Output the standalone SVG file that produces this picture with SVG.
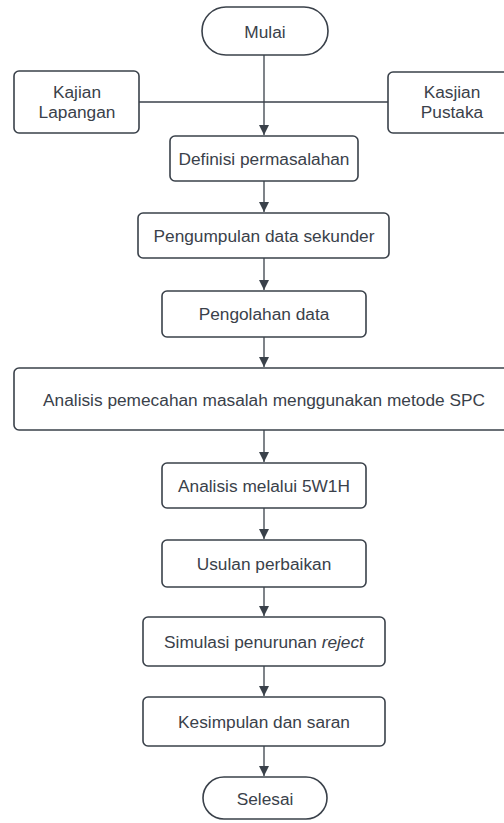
<svg xmlns="http://www.w3.org/2000/svg" width="504" height="823" viewBox="0 0 504 823">
<style>
.box{fill:#ffffff;stroke:#3a414a;stroke-width:1.6}
.t{font-family:"Liberation Sans",Arial,sans-serif;font-size:17.3px;fill:#3a414a;text-anchor:middle}
.c{fill:none;stroke:#3a414a;stroke-width:1.3}
</style>
<defs>
<marker id="arr" markerWidth="10" markerHeight="12" refX="10" refY="5" orient="auto" markerUnits="userSpaceOnUse" viewBox="0 0 10 10">
<path d="M0,0 L10,5 L0,10 Z" fill="#3a414a"/>
</marker>
</defs>
<rect width="504" height="823" fill="#ffffff"/>
<g id="connectors">
<line class="c" x1="264" y1="55" x2="264" y2="135" marker-end="url(#arr)"/>
<line class="c" x1="139" y1="102" x2="388" y2="102"/>
<line class="c" x1="264" y1="181" x2="264" y2="212" marker-end="url(#arr)"/>
<line class="c" x1="264" y1="258" x2="264" y2="290" marker-end="url(#arr)"/>
<line class="c" x1="264" y1="337" x2="264" y2="367" marker-end="url(#arr)"/>
<line class="c" x1="264" y1="430" x2="264" y2="462" marker-end="url(#arr)"/>
<line class="c" x1="264" y1="508" x2="264" y2="539" marker-end="url(#arr)"/>
<line class="c" x1="264" y1="587" x2="264" y2="616" marker-end="url(#arr)"/>
<line class="c" x1="264" y1="666" x2="264" y2="696" marker-end="url(#arr)"/>
<line class="c" x1="264" y1="746" x2="264" y2="776" marker-end="url(#arr)"/>
</g>
<g id="mulai">
<rect class="box" x="202" y="7" width="126" height="48" rx="24"/>
<text class="t" x="265" y="37.5">Mulai</text>
</g>
<g id="kajian">
<rect class="box" x="14" y="71" width="125" height="62" rx="5"/>
<text class="t" x="77" y="97.5">Kajian</text>
<text class="t" x="77" y="117.5">Lapangan</text>
</g>
<g id="kasjian">
<rect class="box" x="388" y="72" width="128" height="61" rx="5"/>
<text class="t" x="452" y="97.5">Kasjian</text>
<text class="t" x="452" y="117.5">Pustaka</text>
</g>
<g id="definisi">
<rect class="box" x="170" y="136" width="188" height="45" rx="5"/>
<text class="t" x="264" y="164.5">Definisi permasalahan</text>
</g>
<g id="pengumpulan">
<rect class="box" x="138" y="213" width="251" height="45" rx="5"/>
<text class="t" x="264" y="241.5">Pengumpulan data sekunder</text>
</g>
<g id="pengolahan">
<rect class="box" x="162" y="291" width="204" height="46" rx="5"/>
<text class="t" x="264" y="319.5">Pengolahan data</text>
</g>
<g id="spc">
<rect class="box" x="14" y="368" width="500" height="62" rx="5"/>
<text class="t" x="264" y="405.5">Analisis pemecahan masalah menggunakan metode SPC</text>
</g>
<g id="w1h">
<rect class="box" x="162" y="463" width="204" height="45" rx="5"/>
<text class="t" x="264" y="491.5">Analisis melalui 5W1H</text>
</g>
<g id="usulan">
<rect class="box" x="162" y="540" width="204" height="47" rx="5"/>
<text class="t" x="264" y="569.5">Usulan perbaikan</text>
</g>
<g id="simulasi">
<rect class="box" x="143" y="617" width="242" height="49" rx="5"/>
<text class="t" x="264" y="647.5">Simulasi penurunan <tspan font-style="italic">reject</tspan></text>
</g>
<g id="kesimpulan">
<rect class="box" x="143" y="697" width="242" height="49" rx="5"/>
<text class="t" x="264" y="727.5">Kesimpulan dan saran</text>
</g>
<g id="selesai">
<rect class="box" x="203" y="777" width="124" height="42" rx="21"/>
<text class="t" x="265" y="804.5">Selesai</text>
</g>
</svg>
